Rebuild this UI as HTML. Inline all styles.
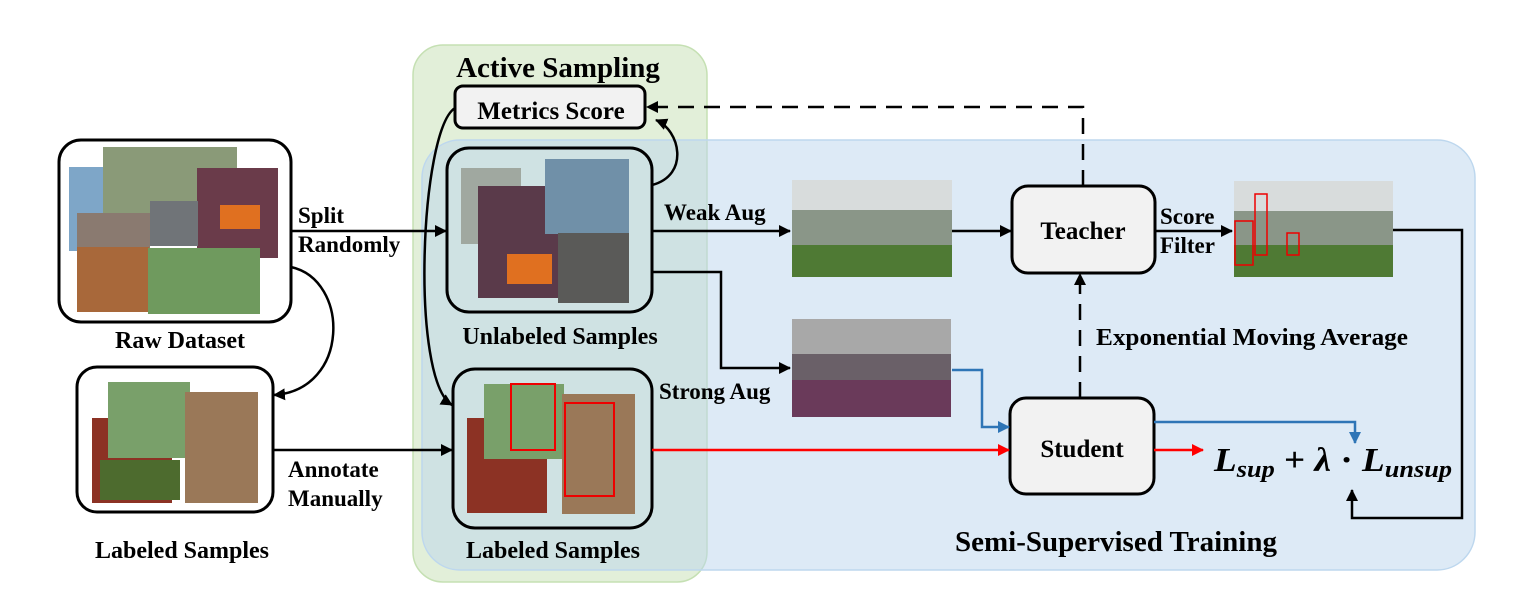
<!DOCTYPE html>
<html><head><meta charset="utf-8"><style>
html,body{margin:0;padding:0;background:#fff;}
svg{display:block;}
text{font-family:"Liberation Serif",serif;font-weight:bold;fill:#000;}
</style></head><body>
<svg width="1518" height="612" viewBox="0 0 1518 612" xmlns="http://www.w3.org/2000/svg">
<defs>
<marker id="ak" markerWidth="12" markerHeight="12" refX="11" refY="6" orient="auto" markerUnits="userSpaceOnUse"><path d="M0,0 L12,6 L0,12 z" fill="#000"/></marker>
<marker id="ar" markerWidth="12" markerHeight="12" refX="11" refY="6" orient="auto" markerUnits="userSpaceOnUse"><path d="M0,0 L12,6 L0,12 z" fill="#f00"/></marker>
<marker id="ab" markerWidth="12" markerHeight="12" refX="11" refY="6" orient="auto" markerUnits="userSpaceOnUse"><path d="M0,0 L12,6 L0,12 z" fill="#2e75b6"/></marker>
</defs>
<rect x="413" y="45" width="294" height="537" rx="30" fill="#e2efd9" stroke="#c5e0b3" stroke-width="1.5"/>
<rect x="422" y="140" width="1053" height="430" rx="38" fill="#bcd6ee" fill-opacity="0.5" stroke="#bdd7ee" stroke-width="1.5"/>

<rect x="59" y="140" width="232" height="182" rx="22" fill="#fff" stroke="#000" stroke-width="3"/>
<rect x="69" y="167" width="35" height="84" fill="#7ea6c8"/>
<rect x="103" y="147" width="134" height="66" fill="#8a9a78"/>
<rect x="197" y="168" width="81" height="90" fill="#6a3b4a"/>
<rect x="150" y="201" width="48" height="45" fill="#707478"/>
<rect x="77" y="213" width="73" height="60" fill="#8a7a70"/>
<rect x="77" y="247" width="72" height="65" fill="#a8683a"/>
<rect x="148" y="248" width="112" height="66" fill="#6f9a5e"/>
<rect x="220" y="205" width="40" height="24" fill="#e07020"/>
<text x="180" y="348" font-size="24" text-anchor="middle">Raw Dataset</text>

<rect x="77" y="367" width="196" height="145" rx="20" fill="#fff" stroke="#000" stroke-width="3"/>
<rect x="92" y="418" width="80" height="85" fill="#8c3224"/>
<rect x="108" y="382" width="82" height="76" fill="#79a06a"/>
<rect x="185" y="392" width="73" height="111" fill="#9a7858"/>
<rect x="100" y="460" width="80" height="40" fill="#4d6b2e"/>
<text x="182" y="558" font-size="24" text-anchor="middle">Labeled Samples</text>

<text x="298" y="223" font-size="23">Split</text>
<text x="298" y="252" font-size="23">Randomly</text>
<text x="288" y="477" font-size="23">Annotate</text>
<text x="288" y="506" font-size="23">Manually</text>

<text x="558" y="77" font-size="29" text-anchor="middle">Active Sampling</text>
<rect x="455" y="86" width="190" height="42" rx="8" fill="#f2f2f2" stroke="#000" stroke-width="3"/>
<text x="551" y="119" font-size="25" text-anchor="middle">Metrics Score</text>

<rect x="447" y="148" width="205" height="164" rx="22" fill="none" stroke="#000" stroke-width="3"/>
<rect x="461" y="168" width="60" height="76" fill="#a0a8a0"/>
<rect x="478" y="186" width="80" height="112" fill="#5a3a4a"/>
<rect x="545" y="159" width="84" height="75" fill="#7090a8"/>
<rect x="558" y="233" width="71" height="70" fill="#5a5a58"/>
<rect x="507" y="254" width="45" height="30" fill="#e07020"/>
<text x="560" y="344" font-size="24" text-anchor="middle">Unlabeled Samples</text>

<rect x="453" y="369" width="199" height="159" rx="22" fill="none" stroke="#000" stroke-width="3"/>
<rect x="467" y="418" width="80" height="95" fill="#8c3224"/>
<rect x="484" y="384" width="80" height="75" fill="#79a06a"/>
<rect x="562" y="394" width="73" height="120" fill="#9a7858"/>
<rect x="511" y="384" width="44" height="66" fill="none" stroke="#e00" stroke-width="2"/>
<rect x="565" y="403" width="49" height="93" fill="none" stroke="#e00" stroke-width="2"/>
<text x="553" y="558" font-size="24" text-anchor="middle">Labeled Samples</text>

<rect x="792" y="180" width="160" height="97" fill="#8a9688"/>
<rect x="792" y="180" width="160" height="30" fill="#d8dcdc"/>
<rect x="792" y="245" width="160" height="32" fill="#4f7a34"/>
<rect x="792" y="319" width="159" height="98" fill="#6a6068"/>
<rect x="792" y="319" width="159" height="35" fill="#a8a8a8"/>
<rect x="792" y="380" width="159" height="37" fill="#6a3a5a"/>
<rect x="1234" y="181" width="159" height="96" fill="#8a9688"/>
<rect x="1234" y="181" width="159" height="30" fill="#d8dcdc"/>
<rect x="1234" y="245" width="159" height="32" fill="#4f7a34"/>
<rect x="1235" y="221" width="18" height="44" fill="none" stroke="#e00" stroke-width="1.5"/>
<rect x="1255" y="194" width="12" height="61" fill="none" stroke="#e00" stroke-width="1.5"/>
<rect x="1287" y="233" width="12" height="22" fill="none" stroke="#e00" stroke-width="1.5"/>

<rect x="1012" y="186" width="143" height="87" rx="16" fill="#f2f2f2" stroke="#000" stroke-width="3"/>
<text x="1083" y="239" font-size="25" text-anchor="middle">Teacher</text>
<rect x="1010" y="398" width="144" height="96" rx="16" fill="#f2f2f2" stroke="#000" stroke-width="3"/>
<text x="1082" y="457" font-size="25" text-anchor="middle">Student</text>

<text x="664" y="220" font-size="23">Weak Aug</text>
<text x="659" y="399" font-size="23">Strong Aug</text>
<text x="1160" y="224" font-size="23">Score</text>
<text x="1160" y="253" font-size="23">Filter</text>
<text x="1096" y="345" font-size="24" textLength="312" lengthAdjust="spacingAndGlyphs">Exponential Moving Average</text>
<text x="1214" y="471" font-size="34" font-style="italic" textLength="238" lengthAdjust="spacingAndGlyphs">L<tspan font-size="24" dy="6">sup</tspan><tspan dy="-6" font-style="normal"> + </tspan>λ<tspan font-style="normal"> · </tspan>L<tspan font-size="24" dy="6">unsup</tspan></text>
<text x="1116" y="551" font-size="29" text-anchor="middle">Semi-Supervised Training</text>

<g fill="none" stroke="#000" stroke-width="2.5">
<line x1="291" y1="231" x2="446" y2="231" marker-end="url(#ak)"/>
<path d="M291,267 C350,280 350,390 274,395" marker-end="url(#ak)"/>
<line x1="273" y1="450" x2="452" y2="450" marker-end="url(#ak)"/>
<line x1="652" y1="231" x2="790" y2="231" marker-end="url(#ak)"/>
<line x1="952" y1="231" x2="1011" y2="231" marker-end="url(#ak)"/>
<line x1="1155" y1="231" x2="1232" y2="231" marker-end="url(#ak)"/>
<path d="M652,272 H721 V368 H790" marker-end="url(#ak)"/>
<path d="M652,185 C690,175 680,130 656,120" marker-end="url(#ak)"/>
<path d="M455,108 C420,130 410,380 452,405" marker-end="url(#ak)"/>
<path d="M1393,230 H1462 V518 H1352 V490" marker-end="url(#ak)"/>
<path d="M1083,186 V107 H647" stroke-dasharray="16,10" marker-end="url(#ak)"/>
<path d="M1080,398 V274" stroke-dasharray="16,10" marker-end="url(#ak)"/>
</g>
<g fill="none" stroke-width="2.5">
<line x1="652" y1="450" x2="1009" y2="450" stroke="#f00" marker-end="url(#ar)"/>
<line x1="1154" y1="450" x2="1203" y2="450" stroke="#f00" marker-end="url(#ar)"/>
<path d="M952,370 H982 V427 H1009" stroke="#2e75b6" marker-end="url(#ab)"/>
<path d="M1154,422 H1355 V443" stroke="#2e75b6" marker-end="url(#ab)"/>
</g>
</svg>
</body></html>
